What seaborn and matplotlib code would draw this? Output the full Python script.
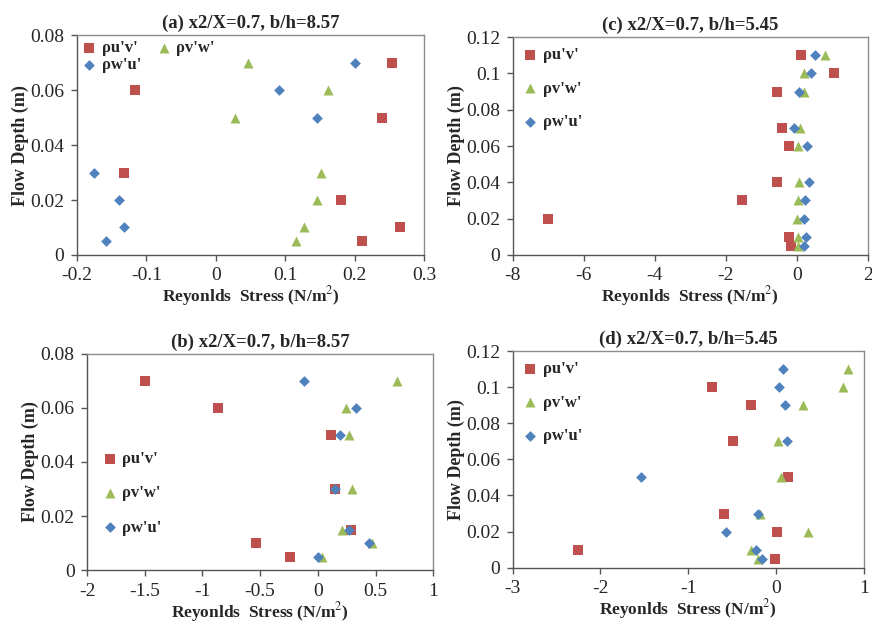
import matplotlib
matplotlib.use("Agg")
import matplotlib.pyplot as plt
import seaborn as sns
import pandas as pd

# series names
series = ["ρu'v'", "ρv'w'", "ρw'u'"]

# (a) x2/X=0.7, b/h=8.57
a_depth = [0.07, 0.06, 0.05, 0.03, 0.02, 0.01, 0.005]
a_uv = [0.254, -0.117, 0.240, -0.132, 0.181, 0.266, 0.210]
a_vw = [0.046, 0.162, 0.027, 0.151, 0.146, 0.127, 0.115]
a_wu = [0.200, 0.091, 0.146, -0.176, -0.139, -0.132, -0.158]

# (b) x2/X=0.7, b/h=8.57
b_depth = [0.07, 0.06, 0.05, 0.03, 0.015, 0.01, 0.005]
b_uv = [-1.50, -0.865, 0.115, 0.15, 0.29, -0.534, -0.245]
b_vw = [0.684, 0.248, 0.268, 0.297, 0.208, 0.473, 0.035]
b_wu = [-0.121, 0.335, 0.196, 0.147, 0.271, 0.441, 0.003]

# (c) x2/X=0.7, b/h=5.45
c_depth = [0.11, 0.10, 0.09, 0.07, 0.06, 0.04, 0.03, 0.02, 0.01, 0.005]
c_uv = [0.11, 1.05, -0.54, -0.40, -0.22, -0.55, -1.53, -7.02, -0.21, -0.17]
c_vw = [0.81, 0.20, 0.22, 0.09, 0.05, 0.06, 0.04, 0.02, 0.04, 0.04]
c_wu = [0.51, 0.40, 0.06, -0.07, 0.28, 0.34, 0.23, 0.22, 0.25, 0.22]

# (d) x2/X=0.7, b/h=5.45
d_depth = [0.11, 0.10, 0.09, 0.07, 0.05, 0.03, 0.02, 0.01, 0.005]
d_uv = [None, -0.73, -0.287, -0.488, 0.139, -0.594, 0.013, -2.256, -0.01]
d_vw = [0.822, 0.769, 0.313, 0.028, 0.063, -0.184, 0.362, -0.29, -0.203]
d_wu = [0.078, 0.032, 0.104, 0.123, -1.54, -0.203, -0.575, -0.233, -0.154]

colors = {series[0]: "#C0504D", series[1]: "#9BBB59", series[2]: "#4F81BD"}
markers = {series[0]: "s", series[1]: "^", series[2]: "D"}
sizes = {series[0]: 60, series[1]: 52, series[2]: 30}


def make_df(depth, uv, vw, wu):
    rows = []
    for name, vals in zip(series, [uv, vw, wu]):
        for d, v in zip(depth, vals):
            if v is not None:
                rows.append({"series": name, "stress": v, "depth": d})
    return pd.DataFrame(rows)


sns.set_style("white")
plt.rcParams["font.family"] = ["Liberation Serif", "DejaVu Serif"]
plt.rcParams["mathtext.fontset"] = "stix"

fig = plt.figure(figsize=(8.72, 6.28), dpi=100)

panels = [
    ("(a) x2/X=0.7, b/h=8.57", make_df(a_depth, a_uv, a_vw, a_wu),
     [0.0883, 0.594, 0.398, 0.350], (-0.2, 0.3), [-0.2, -0.1, 0, 0.1, 0.2, 0.3],
     ["-0.2", "-0.1", "0", "0.1", "0.2", "0.3"], 0.08, [0, 0.02, 0.04, 0.06, 0.08]),
    ("(c) x2/X=0.7, b/h=5.45", make_df(c_depth, c_uv, c_vw, c_wu),
     [0.588, 0.594, 0.407, 0.347], (-8, 2), [-8, -6, -4, -2, 0, 2],
     ["-8", "-6", "-4", "-2", "0", "2"], 0.12, [0, 0.02, 0.04, 0.06, 0.08, 0.1, 0.12]),
    ("(b) x2/X=0.7, b/h=8.57", make_df(b_depth, b_uv, b_vw, b_wu),
     [0.0998, 0.092, 0.397, 0.345], (-2, 1), [-2, -1.5, -1, -0.5, 0, 0.5, 1],
     ["-2", "-1.5", "-1", "-0.5", "0", "0.5", "1"], 0.08, [0, 0.02, 0.04, 0.06, 0.08]),
    ("(d) x2/X=0.7, b/h=5.45", make_df(d_depth, d_uv, d_vw, d_wu),
     [0.588, 0.096, 0.4025, 0.345], (-3, 1), [-3, -2, -1, 0, 1],
     ["-3", "-2", "-1", "0", "1"], 0.12, [0, 0.02, 0.04, 0.06, 0.08, 0.1, 0.12]),
]

for i, (title, df, rect, xlim, xt, xtl, ymax, yt) in enumerate(panels):
    ax = fig.add_axes(rect)
    for name in series:
        sub = df[df["series"] == name]
        sns.scatterplot(data=sub, x="stress", y="depth", ax=ax, color=colors[name],
                        marker=markers[name], s=sizes[name], linewidth=0,
                        label=name, zorder=3)
    ax.set_xlim(*xlim)
    ax.set_ylim(0, ymax)
    ax.set_xticks(xt)
    ax.set_xticklabels(xtl)
    ax.set_yticks(yt)
    ax.set_yticklabels(["0" if v == 0 else ("%g" % v) for v in yt])
    ax.tick_params(axis="both", labelsize=14, direction="out", length=4,
                   width=1, color="#555555", bottom=True, left=True)
    ax.tick_params(axis="x", pad=5)
    ax.tick_params(axis="y", pad=5)
    for sp in ax.spines.values():
        sp.set_color("#8c8c8c")
        sp.set_linewidth(1)
    ax.spines["bottom"].set_color("#555555")
    ax.spines["left"].set_color("#555555")
    ax.set_title(title, fontsize=13.5, fontweight="bold", pad=5)
    ax.set_xlabel("Reyonlds  Stress (N/m$^2$)", fontsize=12.5, fontweight="bold", labelpad=0)
    ax.set_ylabel("Flow Depth (m)", fontsize=13, fontweight="bold", labelpad=1)

    h, l = ax.get_legend_handles_labels()
    common = dict(frameon=False, fontsize=12, handlelength=0.9, handletextpad=0.3)
    if i == 0:
        order = [0, 2, 1]
        leg = ax.legend([h[k] for k in order], [l[k] for k in order], ncol=2,
                        loc="upper left", columnspacing=0.9, labelspacing=0.05,
                        borderaxespad=0.1, borderpad=0.2, **common)
    elif i == 2:
        leg = ax.legend(h, l, loc="center left", bbox_to_anchor=(0.0, 0.355),
                        labelspacing=1.1, **common)
    else:
        leg = ax.legend(h, l, loc="upper left", labelspacing=1.05,
                        borderaxespad=0.2, **common)
    for t in leg.get_texts():
        t.set_fontweight("bold")

fig.savefig("out.png", dpi=100)
